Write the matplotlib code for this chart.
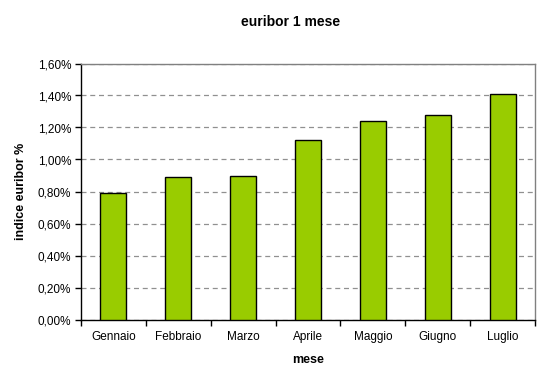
import matplotlib
matplotlib.use("Agg")
import matplotlib.pyplot as plt
from matplotlib.ticker import FuncFormatter, MultipleLocator

plt.rcParams['font.family'] = ['Liberation Sans', 'DejaVu Sans']

months = ["Gennaio", "Febbraio", "Marzo", "Aprile", "Maggio", "Giugno", "Luglio"]
values = [0.79, 0.89, 0.90, 1.125, 1.24, 1.28, 1.41]

fig = plt.figure(figsize=(5.43, 3.86), dpi=100)
ax = fig.add_axes([81/543, 1 - 319.5/386, 454/543, 256/386])

x = range(len(months))
ax.bar(x, values, width=0.4, color="#99CC00", edgecolor="black", linewidth=1.0, zorder=3)

ax.set_xlim(-0.5, len(months) - 0.5)
ax.set_ylim(0, 1.6)
ax.yaxis.set_major_locator(MultipleLocator(0.2))
ax.yaxis.set_major_formatter(FuncFormatter(lambda v, p: f"{v:.2f}%".replace(".", ",")))
ax.yaxis.grid(True, linestyle=(0, (4, 3)), color="#909090", linewidth=0.9, zorder=0)

ax.set_xticks(list(x))
ax.set_xticklabels(months)
ax.set_xticks([i - 0.5 for i in range(len(months) + 1)], minor=True)
ax.tick_params(axis='x', which='major', length=0, pad=8, labelsize=8.5)
ax.tick_params(axis='x', which='minor', length=4, width=1, color="black", direction='out')
ax.tick_params(axis='y', length=4, width=1, direction='out', labelsize=8.5, pad=3)

for s in ["left", "bottom"]:
    ax.spines[s].set_color("black")
    ax.spines[s].set_linewidth(1.0)
for s in ["top", "right"]:
    ax.spines[s].set_color("#808080")
    ax.spines[s].set_linewidth(1.0)

ax.set_xlabel("mese", fontsize=9, fontweight="bold", labelpad=8)
ax.set_ylabel("indice euribor %", fontsize=9, fontweight="bold", labelpad=8)
fig.text(291/543, 1 - 22/386, "euribor 1 mese", ha="center", va="center",
         fontsize=10, fontweight="bold")

fig.savefig("out.png", dpi=100)
